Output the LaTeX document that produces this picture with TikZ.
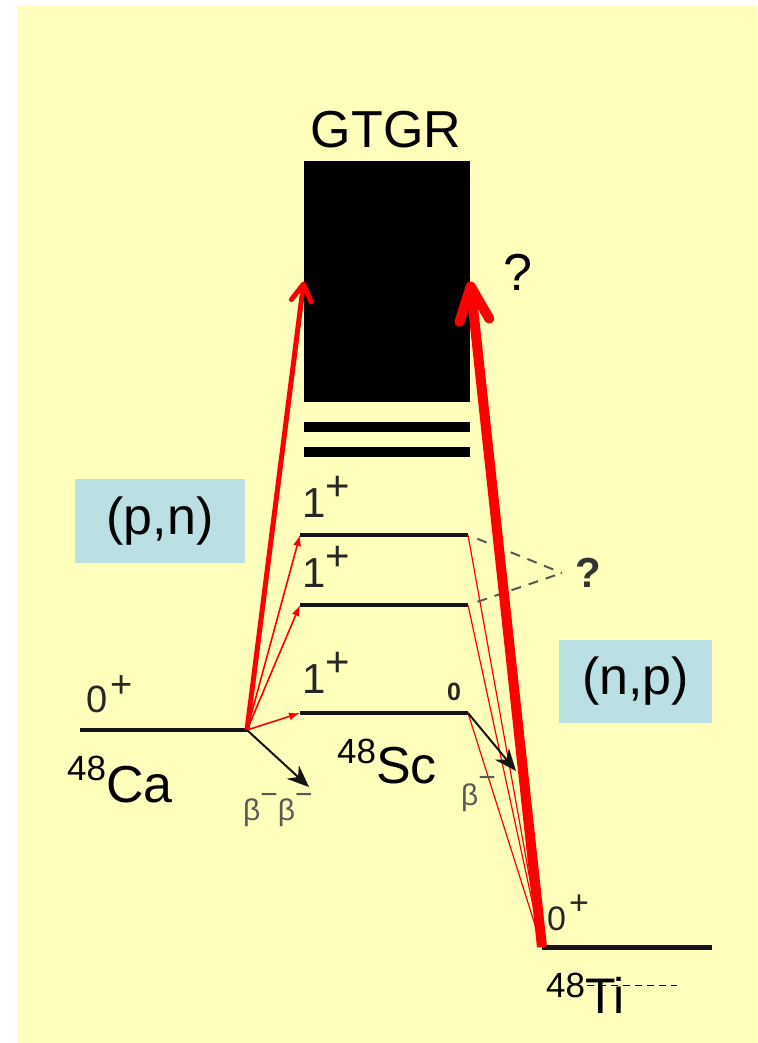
\documentclass[tikz,border=0pt]{standalone}
\usepackage{fontspec}
\setmainfont{Liberation Sans}
\usetikzlibrary{arrows.meta}
\definecolor{bgyellow}{RGB}{255,255,187}
\definecolor{boxblue}{RGB}{187,224,227}
\definecolor{lvl}{RGB}{20,20,20}
\newcommand{\fsz}[1]{\fontsize{#1}{#1}\selectfont}
\begin{document}
\begin{tikzpicture}[x=1pt,y=-1pt,
  level/.style={line width=4.5pt, draw=lvl},
  txt/.style={inner sep=0pt, anchor=base west},
  spin/.style={txt, font=\fsz{42}, text=black!85},
  nucl/.style={txt, font=\fsz{52}},
  beta/.style={txt, font=\fsz{30}, text=black!65},
  reaction/.style={fill=boxblue, inner sep=0pt, font=\fsz{52}},
  redthin/.style={draw=red, line width=1.6pt, -{Latex[length=11pt,width=8pt]}},
  redfine/.style={draw=red, line width=1.2pt, -{Latex[length=9pt,width=6pt]}},
  blackarr/.style={draw=lvl, line width=2pt, -{Stealth[length=22pt,width=18pt]}},
  qdash/.style={draw=black!65, line width=2pt, dash pattern=on 10pt off 8pt},
  bar/.style={fill=black, inner sep=0pt, minimum width=166pt}
]
\fill[white] (0,0) rectangle (757,1043);
\fill[bgyellow] (17,5) rectangle (757,1043);
\useasboundingbox (0,0) rectangle (757,1043);

% level end points
\coordinate (caL) at (80,730);  \coordinate (caR) at (247,730);
\coordinate (sc1L) at (300,535); \coordinate (sc1R) at (468,535);
\coordinate (sc2L) at (300,605); \coordinate (sc2R) at (468,605);
\coordinate (sc3L) at (300,713); \coordinate (sc3R) at (468,713);
\coordinate (tiL) at (542,947); \coordinate (tiR) at (712,947);
\coordinate (bbtip) at (309,787);
\coordinate (btip) at (516,771);
\coordinate (qtip) at (562,573);
\coordinate (dA) at (587,985); \coordinate (dB) at (677,985);

% GTGR block and bars
\node[bar, minimum height=241pt] (gtgr) at (387,281.5) {};
\node[bar, minimum height=10pt] (bar1) at (387,427) {};
\node[bar, minimum height=10pt] (bar2) at (387,452) {};
\node[inner sep=0pt, anchor=base, font=\fsz{52}] (gtgrlabel) at (386,148) {GTGR};
\node[txt, font=\fsz{52}] (q1) at (503,290) {?};

% levels
\draw[level] (caL) -- (caR);
\draw[level] (sc1L) -- (sc1R);
\draw[level] (sc2L) -- (sc2R);
\draw[level] (sc3L) -- (sc3R);
\draw[level, line width=5pt] (tiL) -- (tiR);

% reaction boxes
\node[reaction, minimum width=170pt, minimum height=84pt] (pn) at (160,521) {(p,n)};
\node[reaction, minimum width=153pt, minimum height=83pt] (np) at (635.5,681.5) {(n,p)};

% dashed lines to question mark
\draw[qdash, shorten <=10pt] (sc1R) -- (qtip);
\draw[qdash, shorten <=10pt] (sc2R) -- (qtip);
\node[txt, font=\fsz{42}\bfseries, text=black!80] (q2) at (575,587) {?};

% thin red transitions
\draw[redthin] (caR) -- (sc3L);
\draw[redthin] (caR) -- (sc2L);
\draw[redthin] (caR) -- (sc1L);
\draw[redfine] (sc1R) -- (tiL);
\draw[redfine] (sc2R) -- (tiL);
\draw[redfine] (sc3R) -- (tiL);

% beta decays
\draw[blackarr] (caR) -- (bbtip);
\draw[blackarr] (sc3R) -- (btip);

% big red arrows
\draw[red, line width=5pt, -{Straight Barb[length=17pt,width=20pt,round]}] (caR) -- (gtgr.west);
\draw[red, line width=10pt, -{Straight Barb[length=34pt,width=30pt,round]}] (tiL) -- (gtgr.east);

% spin labels
\node[spin] (j1) at (302,517) {1\raisebox{17pt}{+}};
\node[spin] (j2) at (302,587) {1\raisebox{17pt}{+}};
\node[spin] (j3) at (302,693) {1\raisebox{17pt}{+}};
\node[spin, font=\fsz{38}] (jca) at (86,712) {0\hspace{3pt}\raisebox{15pt}{+}};
\node[spin, font=\fsz{34}] (jti) at (547,930) {0\hspace{3pt}\raisebox{16pt}{+}};
\node[txt, font=\fsz{25}\bfseries, text=black!85] (zero) at (447,700) {0};

% nuclei
\node[nucl] (ca) at (67,802) {\raisebox{22pt}{\fsz{35}48}Ca};
\node[nucl] (sc) at (337,783) {\raisebox{20pt}{\fsz{35}48}Sc};
\node[nucl, font=\fsz{50}] (ti) at (546,1013) {\raisebox{16pt}{\fsz{35}48}Ti};
\draw[black, line width=1pt, dash pattern=on 7pt off 5pt] (dA) -- (dB);

% beta labels
\node[beta] (bb) at (243,820) {β\raisebox{16pt}{−}β\raisebox{16pt}{−}};
\node[beta] (b1) at (461,805) {β\raisebox{18pt}{−}};
\end{tikzpicture}
\end{document}
